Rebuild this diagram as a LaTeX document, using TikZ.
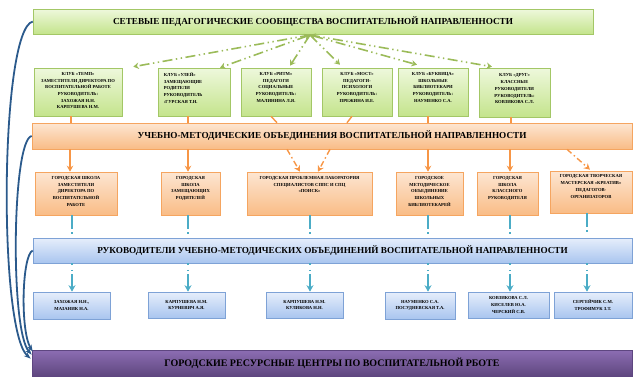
\documentclass[tikz,border=0pt]{standalone}
\usepackage{fontspec}
\setmainfont{Liberation Serif}
\usetikzlibrary{arrows.meta,shadows}
\definecolor{gborder}{HTML}{A3C766}
\definecolor{gtop}{HTML}{EEF8DC}
\definecolor{gbot}{HTML}{C4E48C}
\definecolor{garr}{HTML}{9BBB59}
\definecolor{oborder}{HTML}{F5A560}
\definecolor{otop}{HTML}{FDE6D2}
\definecolor{obot}{HTML}{F9BC86}
\definecolor{oarr}{HTML}{F79646}
\definecolor{bborder}{HTML}{7EA2D6}
\definecolor{btop}{HTML}{E6EEFB}
\definecolor{bbot}{HTML}{A9C5EF}
\definecolor{tarr}{HTML}{4BACC6}
\definecolor{pborder}{HTML}{5E4680}
\definecolor{ptop}{HTML}{8C6DB3}
\definecolor{pbot}{HTML}{5F477F}
\definecolor{lblue}{HTML}{2B5A8C}
\tikzset{
  basebox/.style={draw, line width=0.6pt, inner sep=0pt,
    drop shadow={opacity=0.25,shadow xshift=1.2pt,shadow yshift=-1.2pt}},
  gbox/.style={basebox, draw=gborder, top color=gtop, bottom color=gbot},
  obox/.style={basebox, draw=oborder, top color=otop, bottom color=obot},
  bbox/.style={basebox, draw=bborder, top color=btop, bottom color=bbot},
  pbox/.style={basebox, draw=pborder, top color=ptop, bottom color=pbot},
  bandtxt/.style={font=\bfseries\fontsize{9.2}{11}\selectfont},
  smalltxt/.style={font=\bfseries\fontsize{4.6}{6.7}\selectfont, align=center, inner sep=0pt},
  garrow/.style={draw=garr, line width=1.6pt,
    dash pattern=on 10pt off 3.5pt on 1.4pt off 3.5pt on 1.4pt off 3.5pt,
    -{Stealth[length=5.5pt,width=6.5pt]}},
  garrowb/.style={garrow, {Stealth[length=5.5pt,width=6.5pt]}-{Stealth[length=5.5pt,width=6.5pt]}},
  oline/.style={draw=oarr, line width=1.4pt},
  oarrow/.style={draw=oarr, line width=1.4pt, -{Stealth[length=6pt,width=6.5pt]}},
  oarrowd/.style={oarrow, dash pattern=on 6pt off 3pt on 1.5pt off 3pt},
  tline/.style={draw=tarr, line width=1.4pt, dash pattern=on 14pt off 3pt on 1.5pt off 10pt},
  tarrow/.style={draw=tarr, line width=1.4pt,
    dash pattern=on 1.5pt off 5pt on 1.5pt off 3pt on 30pt off 0pt,
    -{Stealth[length=6.5pt,width=7pt]}},
  lcurve/.style={draw=lblue, line width=1.8pt, -{Stealth[length=7pt,width=5pt]}},
}
\begin{document}
\begin{tikzpicture}[x=1pt,y=-1pt]
\useasboundingbox (0,0) rectangle (641,384);

% --- top band
\node[gbox, minimum width=560pt, minimum height=25pt, bandtxt] (top) at (313,21.5)
  {СЕТЕВЫЕ ПЕДАГОГИЧЕСКИЕ СООБЩЕСТВА ВОСПИТАТЕЛЬНОЙ НАПРАВЛЕННОСТИ};

% --- clubs
\node[gbox, minimum width=88pt, minimum height=48pt] (c1) at (78,92) {};
\node[gbox, minimum width=72pt, minimum height=48pt] (c2) at (194,92) {};
\node[gbox, minimum width=70pt, minimum height=48pt] (c3) at (276,92) {};
\node[gbox, minimum width=70pt, minimum height=48pt] (c4) at (357,92) {};
\node[gbox, minimum width=70pt, minimum height=48pt] (c5) at (433,92) {};
\node[gbox, minimum width=71pt, minimum height=49pt] (c6) at (514.5,92.5) {};
\node[smalltxt, anchor=north] (c1t) at ([yshift=-4.5pt]c1.north)
  {КЛУБ «ТЕМП»\\ЗАМЕСТИТЕЛИ ДИРЕКТОРА ПО\\ВОСПИТАТЕЛЬНОЙ РАБОТЕ\\РУКОВОДИТЕЛЬ:\\ЗАХОЖАЯ Н.Н.\\КАРПУШЕВА Н.М.};
\node[smalltxt, anchor=north west, align=left] (c2t) at ([xshift=6pt,yshift=-4.5pt]c2.north west)
  {КЛУБ «УЛЕЙ»\\ЗАМЕЩАЮЩИЕ\\РОДИТЕЛИ\\РУКОВОДИТЕЛЬ\\:ГУРСКАЯ Т.Н.};
\node[smalltxt, anchor=north] (c3t) at ([yshift=-4.5pt]c3.north)
  {КЛУБ «РИТМ»\\ПЕДАГОГИ\\СОЦИАЛЬНЫЕ\\РУКОВОДИТЕЛЬ:\\МАЛИНИНА Л.Я.};
\node[smalltxt, anchor=north] (c4t) at ([yshift=-4.5pt]c4.north)
  {КЛУБ «МОСТ»\\ПЕДАГОГИ-\\ПСИХОЛОГИ\\РУКОВОДИТЕЛЬ:\\ПРЕЖИНА И.Е.};
\node[smalltxt, anchor=north] (c5t) at ([yshift=-4.5pt]c5.north)
  {КЛУБ «БУКВИЦА»\\ШКОЛЬНЫЕ\\БИБЛИОТЕКАРИ\\РУКОВОДИТЕЛЬ:\\НАУМЕНКО С.А.};
\node[smalltxt, anchor=north] (c6t) at ([yshift=-6pt]c6.north)
  {КЛУБ «ДРУГ»\\КЛАССНЫЕ\\РУКОВОДИТЕЛИ\\РУКОВОДИТЕЛЬ:\\КОВЗИКОВА С.Л.};

% --- orange band
\node[obox, minimum width=600pt, minimum height=26pt, bandtxt] (ob) at (332,136)
  {УЧЕБНО-МЕТОДИЧЕСКИЕ ОБЪЕДИНЕНИЯ ВОСПИТАТЕЛЬНОЙ НАПРАВЛЕННОСТИ};

% --- orange boxes
\node[obox, minimum width=82pt, minimum height=43pt] (oA) at (76,193.5) {};
\node[obox, minimum width=59pt, minimum height=43pt] (oB) at (190.5,193.5) {};
\node[obox, minimum width=125pt, minimum height=43pt] (oC) at (309.5,193.5) {};
\node[obox, minimum width=67pt, minimum height=43pt] (oD) at (429.5,193.5) {};
\node[obox, minimum width=61pt, minimum height=43pt] (oE) at (507.5,193.5) {};
\node[obox, minimum width=82pt, minimum height=42pt] (oF) at (591,192) {};
\node[smalltxt, anchor=north] (oAt) at ([yshift=-4.5pt]oA.north)
  {ГОРОДСКАЯ ШКОЛА\\ЗАМЕСТИТЕЛИ\\ДИРЕКТОРА ПО\\ВОСПИТАТЕЛЬНОЙ\\РАБОТЕ};
\node[smalltxt, anchor=north] (oBt) at ([yshift=-4.5pt]oB.north)
  {ГОРОДСКАЯ\\ШКОЛА\\ЗАМЕЩАЮЩИХ\\РОДИТЕЛЕЙ};
\node[smalltxt, anchor=north] (oCt) at ([yshift=-4.5pt]oC.north)
  {ГОРОДСКАЯ ПРОБЛЕМНАЯ ЛАБОРАТОРИЯ\\СПЕЦИАЛИСТОВ СППС И СПЦ\\«ПОИСК»};
\node[smalltxt, anchor=north] (oDt) at ([yshift=-4.5pt]oD.north)
  {ГОРОДСКОЕ\\МЕТОДИЧЕСКОЕ\\ОБЪЕДИНЕНИЕ\\ШКОЛЬНЫХ\\БИБЛИОТЕКАРЕЙ};
\node[smalltxt, anchor=north] (oEt) at ([yshift=-4.5pt]oE.north)
  {ГОРОДСКАЯ\\ШКОЛА\\КЛАССНОГО\\РУКОВОДИТЕЛЯ};
\node[smalltxt, anchor=north] (oFt) at ([yshift=-4pt]oF.north)
  {ГОРОДСКАЯ ТВОРЧЕСКАЯ\\МАСТЕРСКАЯ «КРЕАТИВ»\\ПЕДАГОГОВ-\\ОРГАНИЗАТОРОВ};

% --- blue band
\node[bbox, minimum width=599pt, minimum height=25pt, bandtxt] (bb) at (332.5,250.5)
  {РУКОВОДИТЕЛИ УЧЕБНО-МЕТОДИЧЕСКИХ ОБЪЕДИНЕНИЙ ВОСПИТАТЕЛЬНОЙ НАПРАВЛЕННОСТИ};

% --- blue boxes
\node[bbox, smalltxt, minimum width=77pt, minimum height=27pt] (b1) at (71.5,305.5)
  {ЗАХОЖАЯ Н.Н.,\\МАЗАНИК Н.А.};
\node[bbox, smalltxt, minimum width=77pt, minimum height=26pt] (b2) at (186.5,305)
  {КАРПУШЕВА Н.М.\\КУРНЕВИЧ А.Я.};
\node[bbox, smalltxt, minimum width=77pt, minimum height=26pt] (b3) at (304.5,305)
  {КАРПУШЕВА Н.М.\\КУЛИКОВА Н.Н.};
\node[bbox, smalltxt, minimum width=70pt, minimum height=27pt] (b4) at (420,305.5)
  {НАУМЕНКО С.А.\\ПОСУДНЕВСКАЯ Т.А.};
\node[bbox, smalltxt, minimum width=81pt, minimum height=26pt] (b5) at (508.5,305)
  {КОВЗИКОВА С.Л.\\КИСЕЛЕВ Ю.А.\\ЧЕРСКИЙ С.В.};
\node[bbox, smalltxt, minimum width=78pt, minimum height=26pt] (b6) at (593,305)
  {СЕРГЕЙЧИК С.М.\\ТРОФИМУК З.Т.};

% --- purple band
\node[pbox, minimum width=600pt, minimum height=26pt, font=\bfseries\fontsize{10}{12}\selectfont] (pb) at (332,363)
  {ГОРОДСКИЕ РЕСУРСНЫЕ ЦЕНТРЫ ПО ВОСПИТАТЕЛЬНОЙ РБОТЕ};

% --- green connectors (top -> clubs)
\coordinate (hub) at (310,35);
\draw[garrow]  (hub) -- ([xshift=11pt,yshift=1pt]c1.north east);
\draw[garrowb] (hub) -- ([xshift=26pt]c2.north);
\draw[garrow]  (hub) -- ([xshift=14pt,yshift=2pt]c3.north);
\draw[garrow]  (hub) -- ([xshift=-17pt,yshift=3pt]c4.north);
\draw[garrowb] (hub) -- ([xshift=-16pt,yshift=3pt]c5.north);
\draw[garrow]  (hub) -- ([xshift=-22.5pt,yshift=1pt]c6.north);

% --- clubs -> orange band
\draw[oline] ([xshift=-7pt]c1.south) -- ([xshift=-7pt]c1.south |- ob.north);
\draw[oline] ([xshift=-6pt]c2.south) -- ([xshift=-6pt]c2.south |- ob.north);
\draw[oline] ([xshift=-5pt]c3.south) -- ([xshift=1pt]c3.south |- ob.north);
\draw[oline] ([xshift=-5pt]c4.south) -- ([xshift=-10pt]c4.south |- ob.north);
\draw[oline] ([xshift=-5pt]c5.south) -- ([xshift=-5pt]c5.south |- ob.north);
\draw[oline] ([xshift=-3.5pt]c6.south) -- ([xshift=-3.5pt]c6.south |- ob.north);

% --- orange band -> orange boxes
\draw[oarrow] ([xshift=-6pt]oA.north |- ob.south) -- ([xshift=-6pt]oA.north);
\draw[oarrow] ([xshift=-2.5pt]oB.north |- ob.south) -- ([xshift=-2.5pt]oB.north);
\draw[oarrowd] ([xshift=-22.5pt]oC.north |- ob.south) -- ([xshift=-9.5pt]oC.north);
\draw[oarrowd] ([xshift=20.5pt]oC.north |- ob.south) -- ([xshift=8.5pt]oC.north);
\draw[oarrow] ([xshift=-1.5pt]oD.north |- ob.south) -- ([xshift=-1.5pt]oD.north);
\draw[oarrow] ([xshift=2.5pt]oE.north |- ob.south) -- ([xshift=2.5pt]oE.north);
\draw[oarrowd] ([xshift=-24pt]oF.north |- ob.south) -- ([xshift=-1pt,yshift=1pt]oF.north);

% --- orange boxes -> blue band
\draw[tline] ([xshift=-4pt]oA.south) -- ([xshift=-4pt]oA.south |- bb.north);
\draw[tline] ([xshift=-2.5pt]oB.south) -- ([xshift=-2.5pt]oB.south |- bb.north);
\draw[tline] ([xshift=0.5pt]oC.south) -- ([xshift=0.5pt]oC.south |- bb.north);
\draw[tline] ([xshift=-1.5pt]oD.south) -- ([xshift=-1.5pt]oD.south |- bb.north);
\draw[tline] ([xshift=2.5pt]oE.south) -- ([xshift=2.5pt]oE.south |- bb.north);
\draw[tline] ([xshift=-4pt]oF.south) -- ([xshift=-4pt]oF.south |- bb.north);

% --- blue band -> blue boxes
\draw[tarrow] ([xshift=0.5pt]b1.north |- bb.south) -- ([xshift=0.5pt]b1.north);
\draw[tarrow] ([xshift=1.5pt]b2.north |- bb.south) -- ([xshift=1.5pt]b2.north);
\draw[tarrow] ([xshift=5.5pt]b3.north |- bb.south) -- ([xshift=5.5pt]b3.north);
\draw[tarrow] ([xshift=8pt]b4.north |- bb.south) -- ([xshift=8pt]b4.north);
\draw[tarrow] ([xshift=1.5pt]b5.north |- bb.south) -- ([xshift=1.5pt]b5.north);
\draw[tarrow] ([xshift=-6pt]b6.north |- bb.south) -- ([xshift=-6pt]b6.north);

% --- left curves into the resource centres
\draw[lcurve] (top.west) .. controls (0,30) and (-2,330) .. ([xshift=-1pt,yshift=-9pt]pb.north west);
\draw[lcurve] (ob.west) .. controls (12,140) and (10,330) .. ([yshift=-5pt]pb.north west);
\draw[lcurve] (bb.west) .. controls (22,255) and (20,330) .. ([xshift=1pt,yshift=-2pt]pb.north west);
\end{tikzpicture}
\end{document}
